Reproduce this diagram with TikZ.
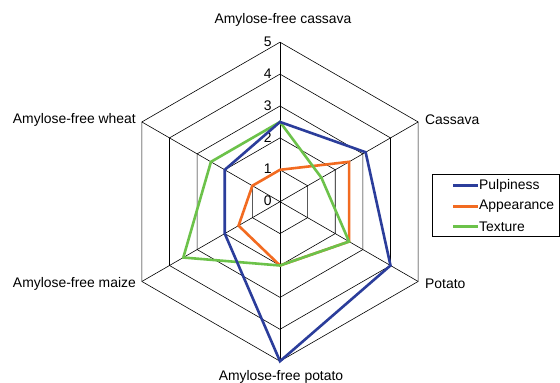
\documentclass[tikz,border=0pt]{standalone}
\usepackage{fontspec}
\setmainfont{Liberation Sans}
\definecolor{pulpc}{HTML}{2B3D9B}
\definecolor{appc}{HTML}{F26B21}
\definecolor{texc}{HTML}{6CC24A}
\begin{document}
\begin{tikzpicture}[x=1pt,y=-1pt,
  grid/.style={black,line width=0.6pt},
  series/.style={line width=2.6pt,line join=miter},
  lab/.style={inner sep=0pt,font=\fontsize{13.9}{16}\selectfont},
  tick/.style={inner sep=0pt,anchor=east,font=\fontsize{13.9}{16}\selectfont}]
\useasboundingbox (0,0) rectangle (560,383);
\fill[white] (0,0) rectangle (560,383);
\begin{scope}[shift={(280,201.7)},x=31.9pt,y=31.9pt]
  % hexagon grid
  \foreach \r in {1,...,5}{
    \draw[grid] (90:\r) -- (30:\r) -- (-30:\r) -- (-90:\r) -- (210:\r) -- (150:\r) -- cycle;
  }
  \foreach \a in {90,30,-30,-90,210,150}{
    \draw[grid] (0,0) -- (\a:5);
  }
  % radial tick labels
  \foreach \r in {0,...,5}{
    \node[tick] (t\r) at (-0.26,\r+0.02) {\r};
  }
  % series
  \draw[series,appc] (90:1) -- (30:2.5) -- (-30:2.5) -- (-90:2) -- (210:1.5) -- (150:1) -- cycle;
  \draw[series,texc] (90:2.5) -- (30:1.5) -- (-30:2.5) -- (-90:2) -- (210:3.5) -- (150:2.5) -- cycle;
  \draw[series,pulpc] (90:2.5) -- (30:3.1) -- (-30:4) -- (-90:5) -- (210:2) -- (150:2) -- cycle;
\end{scope}
% category labels
\node[lab] (c1) at (283,20) {Amylose-free cassava};
\node[lab,anchor=west] (c2) at (425,120) {Cassava};
\node[lab,anchor=west] (c3) at (425,284) {Potato};
\node[lab] (c4) at (281,377) {Amylose-free potato};
\node[lab,anchor=east] (c5) at (136,284) {Amylose-free maize};
\node[lab,anchor=east] (c6) at (136,120) {Amylose-free wheat};
% legend
\draw[black,line width=0.8pt] (432.5,174) rectangle (559,236);
\coordinate (l1a) at (453,185.7); \coordinate (l1b) at (478,185.7);
\coordinate (l2a) at (453,206.3); \coordinate (l2b) at (478,206.3);
\coordinate (l3a) at (453,226.7); \coordinate (l3b) at (478,226.7);
\draw[pulpc,line width=2.6pt] (l1a) -- (l1b);
\draw[appc,line width=2.6pt] (l2a) -- (l2b);
\draw[texc,line width=2.6pt] (l3a) -- (l3b);
\node[lab,anchor=west] (g1) at (479,185.7) {Pulpiness};
\node[lab,anchor=west] (g2) at (479,206.3) {Appearance};
\node[lab,anchor=west] (g3) at (479,226.7) {Texture};
\end{tikzpicture}
\end{document}
